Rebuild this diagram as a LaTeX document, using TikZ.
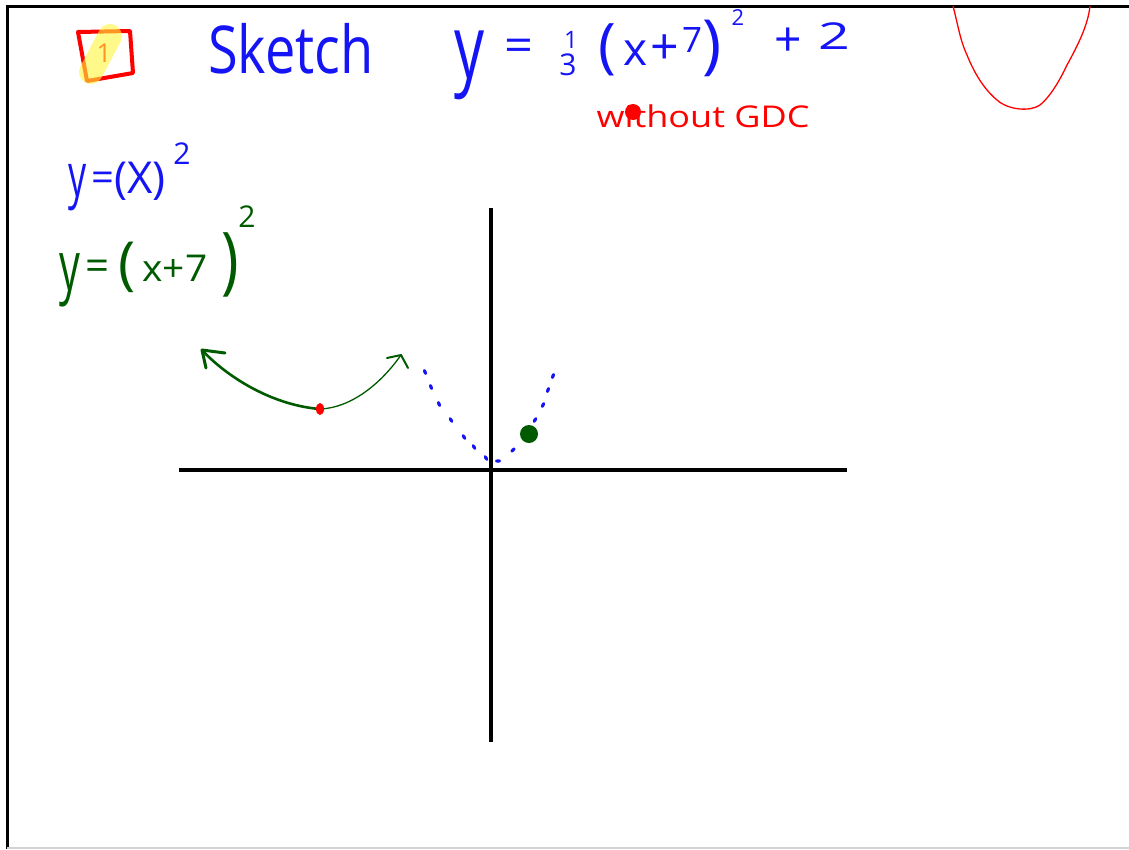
\documentclass[tikz,border=0pt]{standalone}
\usepackage{fontspec}
\setmainfont{Open Sans}
\usetikzlibrary{arrows.meta,shapes.geometric}
\definecolor{inkblue}{RGB}{20,20,245}
\definecolor{inkgreen}{RGB}{0,90,0}
\definecolor{inkred}{RGB}{255,0,0}
\definecolor{hiyellow}{RGB}{255,245,60}
\newcommand\hw[3]{\scalebox{#1}[1]{\fontsize{#2}{#2}\selectfont #3}}
\tikzset{
  txt/.style={inner sep=0pt, outer sep=0pt, anchor=center},
  btxt/.style={txt, text=inkblue},
  gtxt/.style={txt, text=inkgreen},
  rtxt/.style={txt, text=inkred},
  axis/.style={line width=4.5pt, black},
  frame/.style={line width=3pt, black},
  bdot/.style={ellipse, fill=inkblue, inner sep=0pt, minimum width=3.5pt, minimum height=6pt},
}
\begin{document}
\begin{tikzpicture}[x=1pt,y=-1pt]
\useasboundingbox (0,0) rectangle (1129,849);
% frame
\draw[frame] (7,849) -- (7,6) -- (1129,6);
\draw[gray!35, line width=1.5pt] (7,848) -- (1129,848);

% badge "1"
\draw[inkred, line width=4pt, line join=round] (78,32) -- (130,31) -- (133,73) -- (87,81) -- cycle;
\node[rtxt] (one) at (104,53) {\hw{1}{26}{1}};
\draw[hiyellow, opacity=0.6, line width=24pt, line cap=round] (110,36) -- (91,72);

% title
\node[btxt] (sketch) at (291,49) {\hw{0.82}{66}{Sketch}};
\node[btxt] (ey) at (470,65) {\hw{0.67}{89}{y}};
\node[btxt] (eeq) at (519,50) {\hw{1.1}{46}{=}};
\node[btxt] (enum) at (571,40) {\hw{1}{24}{1}};
\node[btxt] (eden) at (568,65) {\hw{1}{30}{3}};
\node[btxt] (elp) at (607,50) {\hw{1}{60}{(}};
\node[btxt] (ex) at (636,53) {\hw{1}{46}{x}};
\node[btxt] (eplus) at (665,50) {\hw{1}{50}{+}};
\node[btxt] (eseven) at (692,40) {\hw{1}{35}{7}};
\node[btxt] (erp) at (712,48) {\hw{1}{65}{)}};
\node[btxt] (esq) at (738,18) {\hw{1}{22}{2}};
\node[btxt] (eplus2) at (788,42) {\hw{1}{48}{+}};
\node[btxt] (etwo) at (834,36) {\hw{1.5}{37}{2}};

% without GDC
\node[rtxt] (gdc) at (703,116) {\hw{1.2}{30}{without GDC}};
\fill[inkred] (633,112) circle (8);

% top-right red parabola
\draw[inkred, line width=1.3pt] (953,6) .. controls (958,25) and (960,40) .. (967,55)
  .. controls (975,75) and (985,90) .. (997,100)
  .. controls (1008,110) and (1030,112) .. (1040,105)
  .. controls (1050,97) and (1060,80) .. (1067,65)
  .. controls (1078,45) and (1088,25) .. (1090,6);

% y=(X)^2
\node[btxt] (by) at (78,188) {\hw{0.6}{60}{y}};
\node[btxt] (beq) at (103,182) {\hw{1}{40}{=}};
\node[btxt] (bx) at (140,181) {\hw{1}{44}{(X)}};
\node[btxt] (bsq) at (182,154) {\hw{1}{30}{2}};

% y=(x+7)^2
\node[gtxt] (gy) at (70,280) {\hw{0.6}{69}{y}};
\node[gtxt] (geq) at (98,270) {\hw{1}{42}{=}};
\node[gtxt] (glp) at (127,267) {\hw{1}{58}{(}};
\node[gtxt] (gx) at (175,268) {\hw{1.05}{37}{x+7}};
\node[gtxt] (grp) at (230,265) {\hw{0.8}{74}{)}};
\node[gtxt] (gsq) at (247,217) {\hw{1}{30}{2}};

% axes
\coordinate (xl) at (179,470); \coordinate (xr) at (847,470);
\coordinate (yt) at (491,208); \coordinate (yb) at (491,742);
\draw[axis] (xl) -- (xr);
\draw[axis] (yt) -- (yb);

% green arrow curve
\coordinate (gl) at (202,350); \coordinate (gm) at (320,409); \coordinate (gr) at (401,355);
\draw[inkgreen, line width=2.6pt, line cap=round] (gl) .. controls (225,375) and (270,405) .. (gm);
\draw[inkgreen, line width=1.3pt, line cap=round] (gm) .. controls (350,408) and (380,385) .. (gr);
\draw[inkgreen, line width=3pt, line cap=round, line join=round] (225,353) -- (gl) -- (206,368);
\draw[inkgreen, line width=2pt, line cap=round, line join=round] (387,358) -- (gr) -- (408,368);
\fill[inkred] (gm) ellipse (4 and 6);

% blue dotted parabola
\foreach \p/\r [count=\i] in {(425,372)/20,(431,387)/20,(439,404)/20,(451,420)/30,(464,437)/30,(474,447)/30,(486,458)/30,(498,461)/90,(513,450)/-45,(535,420)/-30,(543,405)/-25,(548,390)/-20,(553,376)/-20}
  \node[bdot, rotate=\r] (d\i) at \p {};

% green dot
\fill[inkgreen] (529,434) circle (9);
\end{tikzpicture}
\end{document}
